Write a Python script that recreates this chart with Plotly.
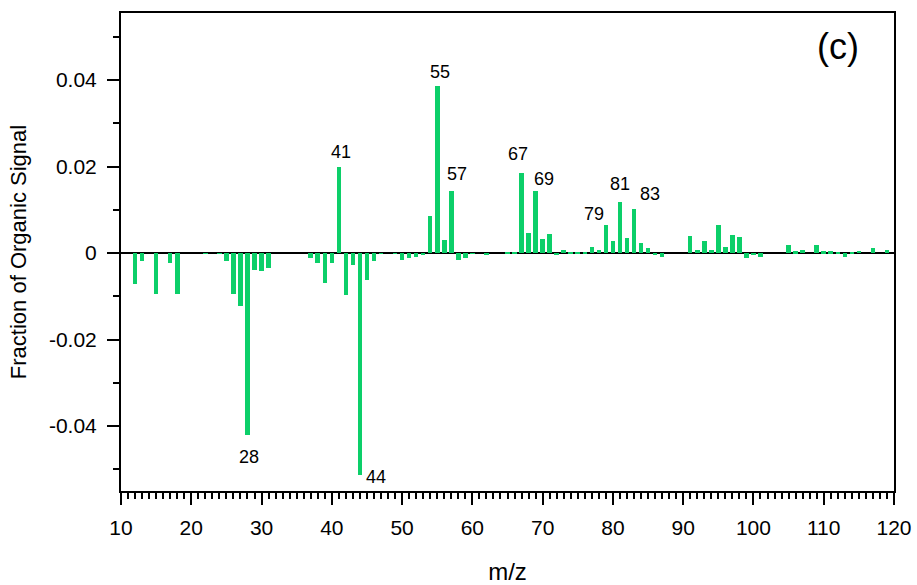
import plotly.graph_objects as go

# m/z values and fraction of organic signal (difference spectrum)
mz = [12, 13, 15, 17, 18, 22, 24, 25, 26, 27, 28, 29, 30, 31,
      37, 38, 39, 40, 41, 42, 43, 44, 45, 46, 47, 49, 50, 51, 52, 53,
      54, 55, 56, 57, 58, 59, 60, 62, 65, 66, 67, 68, 69, 70, 71, 72, 73,
      74, 75, 76, 77, 78, 79, 80, 81, 82, 83, 84, 85, 86, 87,
      91, 92, 93, 94, 95, 96, 97, 98, 99, 100, 101,
      105, 106, 107, 109, 110, 111, 112, 113, 114, 115, 117, 119]
signal = [-0.0071, -0.0018, -0.0095, -0.0022, -0.0094, -0.0002, -0.0002, -0.0019, -0.0095, -0.0122, -0.0421, -0.0038, -0.0041, -0.0034,
          -0.0011, -0.0023, -0.0069, -0.0024, 0.0199, -0.0098, -0.0027, -0.0513, -0.0063, -0.0019, -0.0002, -0.0001, -0.0015, -0.0011, -0.0008, -0.0005,
          0.0086, 0.0386, 0.0031, 0.0144, -0.0015, -0.0011, -0.0002, -0.0003, 0.0003, 0.0002, 0.0185, 0.0047, 0.0143, 0.0033, 0.0045, -0.0005, 0.0006,
          0.0001, 0.0001, 0.0001, 0.0014, 0.0008, 0.0064, 0.0028, 0.0119, 0.0034, 0.0103, 0.0024, 0.0011, -0.0003, -0.0009,
          0.0040, 0.0008, 0.0028, 0.0006, 0.0064, 0.0015, 0.0042, 0.0037, -0.0012, -0.0004, -0.0010,
          0.0018, 0.0004, 0.0008, 0.0018, 0.0004, 0.0004, 0.0003, -0.0008, 0.0001, 0.0005, 0.0011, 0.0006]

# labelled peaks: (m/z, x shift px, y shift px)
peak_labels = [28, 41, 44, 55, 57, 67, 69, 79, 81, 83]
label_dx = {28: 2, 41: 2, 44: 16, 55: 3, 57: 6, 67: -4, 69: 8, 79: -12, 81: 0, 83: 16}
label_dy = {28: -22, 41: 15, 44: -2, 55: 14, 57: 17, 67: 19, 69: 12, 79: 11, 81: 18, 83: 15}

xtick_vals = [10, 20, 30, 40, 50, 60, 70, 80, 90, 100, 110, 120]
ytick_vals = [-0.04, -0.02, 0, 0.02, 0.04]
ytick_text = ["-0.04", "-0.02", "0", "0.02", "0.04"]

FONT = "Liberation Sans, Arial, sans-serif"
GREEN = "#0ccf69"

fig = go.Figure()
fig.add_trace(go.Bar(x=mz, y=signal, width=0.65,
                     marker=dict(color=GREEN, line=dict(width=0)),
                     showlegend=False))

val = dict(zip(mz, signal))
for m in peak_labels:
    v = val[m]
    fig.add_annotation(x=m, y=v, text=str(m), showarrow=False,
                       xanchor="center", yanchor="middle",
                       xshift=label_dx[m], yshift=label_dy[m],
                       font=dict(family=FONT, size=18, color="black"))

fig.add_annotation(x=0.9276, y=0.929, xref="paper", yref="paper", text="(c)",
                   showarrow=False, xanchor="center", yanchor="middle",
                   font=dict(family=FONT, size=36, color="black"))

fig.update_layout(
    width=917, height=585,
    margin=dict(l=121, r=23, t=13, b=94, autoexpand=False),
    plot_bgcolor="white", paper_bgcolor="white",
    font=dict(family=FONT, color="black"),
    bargap=0,
)
fig.update_xaxes(
    range=[10, 120], tickvals=xtick_vals, ticks="outside", ticklen=12, tickwidth=2,
    tickcolor="black", showline=True, linecolor="black", linewidth=2, mirror=True,
    showgrid=False, zeroline=False, tickfont=dict(size=21, family=FONT),
    ticklabelstandoff=5, automargin=False,
    minor=dict(dtick=1, ticks="outside", ticklen=6, tickwidth=1.5, tickcolor="black"),
    title=dict(text="m/z", font=dict(size=24, family=FONT), standoff=26),
)
fig.update_yaxes(
    range=[-0.0550, 0.0555], tickvals=ytick_vals, ticktext=ytick_text,
    ticks="outside", ticklen=12, tickwidth=2, tickcolor="black",
    showline=True, linecolor="black", linewidth=2, mirror=True,
    showgrid=False, zeroline=True, zerolinecolor="black", zerolinewidth=2,
    tickfont=dict(size=21, family=FONT), ticklabelstandoff=6, automargin=False,
    minor=dict(dtick=0.01, tick0=0, ticks="outside", ticklen=6, tickwidth=2, tickcolor="black"),
    title=dict(text="Fraction of Organic Signal", font=dict(size=22, family=FONT), standoff=16),
)

fig.write_html("out.html")
